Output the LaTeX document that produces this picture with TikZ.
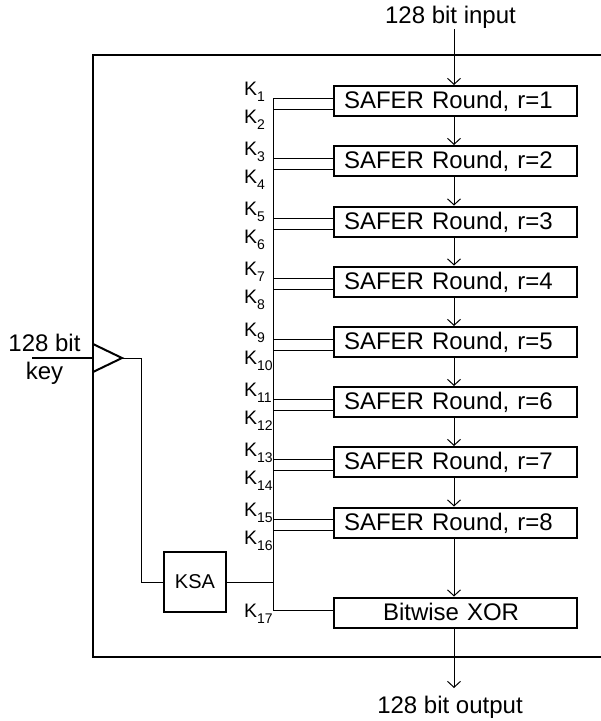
\documentclass[tikz,border=0pt]{standalone}
\usepackage{fontspec}
\setmainfont{Liberation Sans}
\usetikzlibrary{arrows.meta}
\tikzset{
  rnd/.style={draw, line width=2pt, minimum height=30pt, text width=223pt, inner xsep=10pt, inner ysep=0pt, align=left, text height=15pt, text depth=0pt},
  xorbox/.style={draw, line width=2pt, minimum height=30pt, text width=145pt, inner xsep=49pt, inner ysep=0pt, align=left, text height=15pt, text depth=0pt},
  flow/.style={line width=1pt, -{Straight Barb[length=6pt,width=13pt]}},
  wire/.style={line width=1pt},
  klab/.style={anchor=base west, inner sep=0pt, font=\fontsize{19.5}{22}\selectfont}}
\newcommand{\kay}[1]{K\raisebox{-6pt}{\fontsize{14}{14}\selectfont #1}}

\begin{document}
\begin{tikzpicture}[x=1pt, y=-1pt, font=\fontsize{24}{28}\selectfont]
  \useasboundingbox (0,0) rectangle (601,721);
    % frame and key input
    \draw [line width=2.5pt] (601,55) -- (93,55) -- (93,657) -- (601,657);
    \coordinate (tri) at (122,358);
    \draw [line width=2pt] (93,344) -- (tri) -- (93,372);
        \coordinate (kin) at (32,358);
        \draw [line width=1.5pt] (kin) -- (93,358);
    \node [anchor=base] (keya) at (44.5,351) {128 bit};
    \node [anchor=base] (keyb) at (44.5,379) {key};
    % rounds
    \node [rnd] (r1) at (455.5,101) {SAFER Round, r=1};
    \node [rnd] (r2) at (455.5,161) {SAFER Round, r=2};
    \node [rnd] (r3) at (455.5,221.5) {SAFER Round, r=3};
    \node [rnd] (r4) at (455.5,281.5) {SAFER Round, r=4};
    \node [rnd] (r5) at (455.5,342) {SAFER Round, r=5};
    \node [rnd] (r6) at (455.5,402) {SAFER Round, r=6};
    \node [rnd] (r7) at (455.5,462) {SAFER Round, r=7};
    \node [rnd] (r8) at (455.5,522.5) {SAFER Round, r=8};
    \node [xorbox] (xr) at (455.5,612.5) {Bitwise XOR};
    \node [draw, line width=2pt, minimum width=62pt, minimum height=60pt, font=\fontsize{20}{22}\selectfont] (ksa) at (195,582) {KSA};
    % data path
        \coordinate (in) at (454,29); \coordinate (out) at (454,688);
    \node [anchor=base] (inlab) at (450.5,23) {128 bit input};
    \node [anchor=base] (outlab) at (450,713) {128 bit output};
    \draw [flow] (in) -- (r1.north -| in);
    \draw [flow] (r1.south -| in) -- (r2.north -| in); \draw [flow] (r2.south -| in) -- (r3.north -| in);
    \draw [flow] (r3.south -| in) -- (r4.north -| in); \draw [flow] (r4.south -| in) -- (r5.north -| in);
    \draw [flow] (r5.south -| in) -- (r6.north -| in); \draw [flow] (r6.south -| in) -- (r7.north -| in);
    \draw [flow] (r7.south -| in) -- (r8.north -| in); \draw [flow] (r8.south -| in) -- (xr.north -| in);
    \draw [flow] (xr.south -| in) -- (out);
    % key schedule bus
        \coordinate (bus) at (273,0);
    \draw [wire] (tri) -- (141,358) -- (141,582) -- (ksa.west);
    \draw [wire] (ksa.east) -- (ksa.east -| bus);
    \draw [wire] ([yshift=3pt]r1.west -| bus) -- ([yshift=2.5pt]xr.west -| bus);
    \draw [wire] ([yshift=3pt]r1.west) -- ([yshift=3pt]r1.west -| bus); \draw [wire] ([yshift=-8pt]r1.west) -- ([yshift=-8pt]r1.west -| bus);
    \draw [wire] ([yshift=3pt]r2.west) -- ([yshift=3pt]r2.west -| bus); \draw [wire] ([yshift=-8pt]r2.west) -- ([yshift=-8pt]r2.west -| bus);
    \draw [wire] ([yshift=3pt]r3.west) -- ([yshift=3pt]r3.west -| bus); \draw [wire] ([yshift=-8pt]r3.west) -- ([yshift=-8pt]r3.west -| bus);
    \draw [wire] ([yshift=3pt]r4.west) -- ([yshift=3pt]r4.west -| bus); \draw [wire] ([yshift=-8pt]r4.west) -- ([yshift=-8pt]r4.west -| bus);
    \draw [wire] ([yshift=3pt]r5.west) -- ([yshift=3pt]r5.west -| bus); \draw [wire] ([yshift=-8pt]r5.west) -- ([yshift=-8pt]r5.west -| bus);
    \draw [wire] ([yshift=3pt]r6.west) -- ([yshift=3pt]r6.west -| bus); \draw [wire] ([yshift=-8pt]r6.west) -- ([yshift=-8pt]r6.west -| bus);
    \draw [wire] ([yshift=3pt]r7.west) -- ([yshift=3pt]r7.west -| bus); \draw [wire] ([yshift=-8pt]r7.west) -- ([yshift=-8pt]r7.west -| bus);
    \draw [wire] ([yshift=3pt]r8.west) -- ([yshift=3pt]r8.west -| bus); \draw [wire] ([yshift=-8pt]r8.west) -- ([yshift=-8pt]r8.west -| bus);
    \draw [wire] ([yshift=2.5pt]xr.west) -- ([yshift=2.5pt]xr.west -| bus);
    % subkey labels
    \node [klab] (k1) at (244,95) {\kay{1}};   \node [klab] (k2) at (244,123) {\kay{2}};
    \node [klab] (k3) at (244,155) {\kay{3}};  \node [klab] (k4) at (244,183) {\kay{4}};
    \node [klab] (k5) at (244,215.5) {\kay{5}};  \node [klab] (k6) at (244,243.5) {\kay{6}};
    \node [klab] (k7) at (244,275.5) {\kay{7}};  \node [klab] (k8) at (244,303.5) {\kay{8}};
    \node [klab] (k9) at (244,336) {\kay{9}};  \node [klab] (k10) at (244,364) {\kay{10}};
    \node [klab] (k11) at (244,396) {\kay{11}};  \node [klab] (k12) at (244,424) {\kay{12}};
    \node [klab] (k13) at (244,456) {\kay{13}};  \node [klab] (k14) at (244,484) {\kay{14}};
    \node [klab] (k15) at (244,516.5) {\kay{15}};  \node [klab] (k16) at (244,544.5) {\kay{16}};
    \node [klab] (k17) at (244,617) {\kay{17}};
\end{tikzpicture}
\end{document}
